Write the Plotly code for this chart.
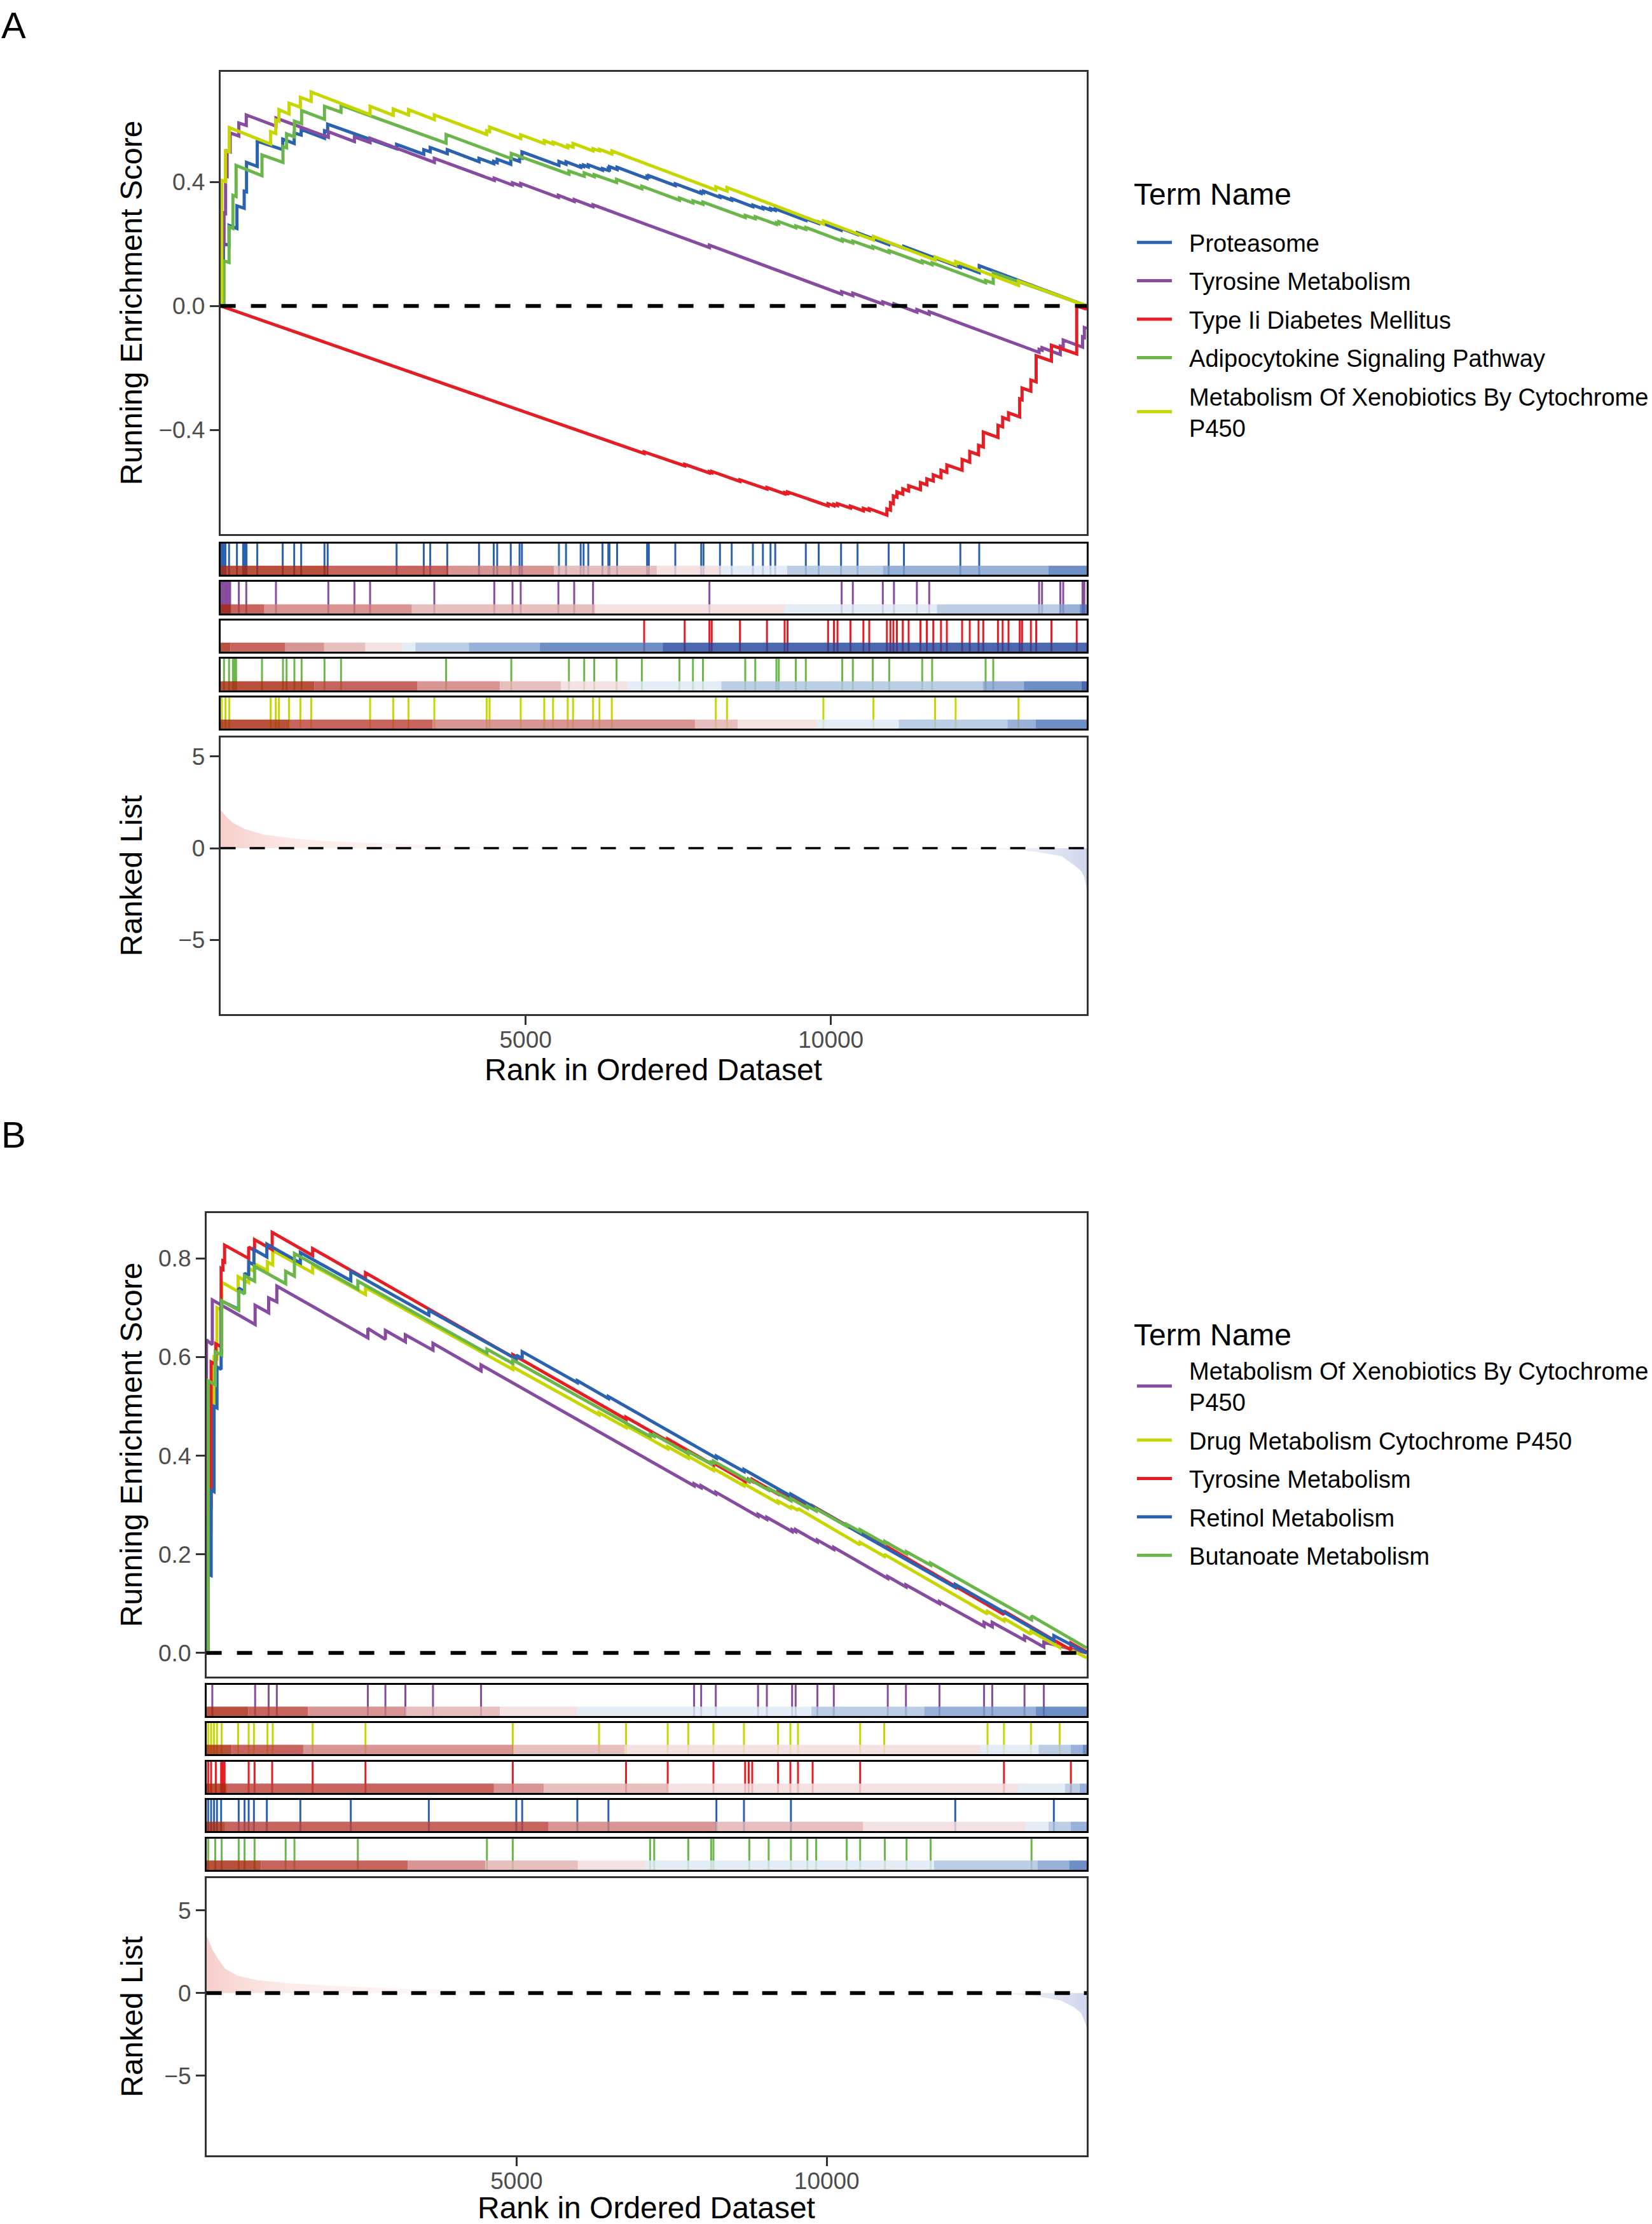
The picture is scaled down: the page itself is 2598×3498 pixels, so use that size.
import textwrap
import plotly.graph_objects as go

W, H = 2598, 3498
N_RANK = 14190
FONT = "Liberation Sans"

# ======================= DATA: panel A =======================
A_TERMS = ["Proteasome", "Tyrosine Metabolism", "Type Ii Diabetes Mellitus",
           "Adipocytokine Signaling Pathway",
           "Metabolism Of Xenobiotics By Cytochrome P450"]

# gene-set hit positions (rug ticks)
A_HITS_PROT = [10, 30, 50, 70, 83, 142, 271, 372, 390, 410, 428, 604, 1021, 1209, 1323, 1705, 1757,
               2886, 3331, 3437, 3716, 4236, 4477, 4534, 4756, 4900, 4939, 5545, 5661, 5901, 5949,
               6026, 6258, 6354, 6373, 6498, 6989, 7018, 7451, 7875, 7913, 8183, 8375, 8722, 8886,
               9011, 9088, 9589, 9800, 10166, 10436, 10946, 11196, 12120, 12429]
A_HITS_TYR = [10, 35, 60, 85, 110, 135, 160, 302, 424, 910, 1768, 2195, 2452, 3504, 4486, 4785,
              4919, 5536, 5795, 6104, 8010, 10176, 10359, 10850, 11033, 11408, 11610, 13410, 13458,
              13757, 13805, 14122, 14151]
A_HITS_T2D = [6941, 7605, 8010, 8048, 8510, 8953, 9242, 9290, 9954, 10050, 10108, 10320, 10532,
              10628, 10917, 10975, 11023, 11081, 11177, 11273, 11466, 11571, 11677, 11803, 11899,
              12149, 12274, 12418, 12496, 12736, 12813, 12909, 13092, 13131, 13275, 13362, 13612, 14026]
A_HITS_ADIPO = [59, 142, 205, 230, 257, 681, 1025, 1084, 1212, 1330, 1705, 1976, 3697, 4765, 5709,
                5959, 6123, 6489, 6903, 7519, 7740, 7904, 8597, 8761, 9107, 9146, 9425, 9589, 10185,
                10359, 10686, 10955, 11495, 11658, 12534, 12659]
A_HITS_XENO = [21, 83, 146, 823, 907, 959, 1125, 1310, 1487, 2452, 2831, 3081, 3504, 4361, 4409,
               4919, 5304, 5449, 5689, 5776, 6104, 6209, 6411, 8115, 8298, 9877, 10696, 11706,
               12043, 13073]

# running enrichment score read at the steps: (rank, score before step, score after step)
A_ES_PROT = [(10, 0.0, 0.10), (50, 0.098, 0.20), (142, 0.196, 0.26), (271, 0.25, 0.323),
             (390, 0.315, 0.37), (428, 0.368, 0.463), (604, 0.45, 0.531), (1021, 0.504, 0.538),
             (1209, 0.524, 0.558), (1323, 0.551, 0.569), (1705, 0.541, 0.565), (1757, 0.562, 0.586),
             (2886, 0.507, 0.521), (3331, 0.489, 0.504), (3437, 0.497, 0.511), (3716, 0.491, 0.504),
             (4236, 0.465, 0.476), (4477, 0.459, 0.466), (4534, 0.462, 0.473), (4756, 0.457, 0.476),
             (4900, 0.466, 0.48), (4939, 0.477, 0.497), (5545, 0.453, 0.466), (5661, 0.457, 0.465),
             (5901, 0.447, 0.452), (5949, 0.449, 0.454), (6026, 0.448, 0.455), (6258, 0.438, 0.443),
             (6354, 0.437, 0.443), (6373, 0.441, 0.449), (6498, 0.44, 0.447), (6989, 0.411, 0.418),
             (7018, 0.416, 0.42), (7451, 0.388, 0.394), (7875, 0.363, 0.368), (7913, 0.365, 0.37),
             (8183, 0.35, 0.355), (8375, 0.341, 0.346), (8722, 0.32, 0.325), (8886, 0.313, 0.318),
             (9011, 0.309, 0.314), (9088, 0.308, 0.313), (9589, 0.276, 0.281), (9800, 0.266, 0.271),
             (10166, 0.244, 0.25), (10436, 0.23, 0.236), (10946, 0.198, 0.204), (11196, 0.186, 0.192),
             (12120, 0.124, 0.13), (12429, 0.107, 0.13)]
A_ES_TYR = [(10, 0.0, 0.12), (35, 0.118, 0.2), (60, 0.198, 0.3), (85, 0.298, 0.42), (110, 0.418, 0.5),
            (160, 0.497, 0.558), (302, 0.548, 0.59), (424, 0.582, 0.616), (910, 0.58, 0.606),
            (1768, 0.544, 0.562), (2195, 0.53, 0.545), (2452, 0.527, 0.541), (3504, 0.463, 0.476),
            (4486, 0.405, 0.412), (4785, 0.39, 0.397), (4919, 0.387, 0.395), (5536, 0.35, 0.357),
            (5795, 0.337, 0.343), (6104, 0.32, 0.326), (8010, 0.188, 0.196), (10176, 0.038, 0.046),
            (10359, 0.033, 0.041), (10850, 0.006, 0.013), (11033, 0.0, 0.007), (11408, -0.02, -0.012),
            (11610, -0.027, -0.019), (13410, -0.15, -0.14), (13458, -0.143, -0.135),
            (13757, -0.157, -0.13), (13805, -0.133, -0.11), (14122, -0.133, -0.10),
            (14151, -0.102, -0.07)]
A_ES_T2D = [(6941, -0.476, -0.471), (7605, -0.516, -0.511), (8010, -0.539, -0.535),
            (8048, -0.538, -0.534), (8510, -0.566, -0.561), (8953, -0.591, -0.586),
            (9242, -0.606, -0.602), (9290, -0.605, -0.6), (9954, -0.645, -0.638),
            (10050, -0.645, -0.64), (10108, -0.644, -0.638), (10320, -0.652, -0.646),
            (10532, -0.661, -0.653), (10628, -0.66, -0.654), (10917, -0.675, -0.655),
            (10975, -0.659, -0.635), (11023, -0.638, -0.613), (11081, -0.617, -0.6),
            (11177, -0.607, -0.59), (11273, -0.597, -0.58), (11466, -0.593, -0.57),
            (11571, -0.577, -0.558), (11677, -0.565, -0.545), (11803, -0.554, -0.53),
            (11899, -0.537, -0.513), (12149, -0.53, -0.495), (12274, -0.504, -0.47),
            (12418, -0.48, -0.45), (12496, -0.455, -0.407), (12736, -0.424, -0.385),
            (12813, -0.39, -0.36), (12909, -0.367, -0.345), (13092, -0.358, -0.30),
            (13131, -0.303, -0.265), (13275, -0.275, -0.239), (13362, -0.245, -0.161),
            (13612, -0.178, -0.127), (14026, -0.155, 0.0)]
A_ES_ADIPO = [(59, 0.0, 0.145), (142, 0.14, 0.255), (205, 0.25, 0.357), (257, 0.353, 0.453),
              (681, 0.42, 0.487), (1025, 0.463, 0.514), (1084, 0.51, 0.555), (1212, 0.545, 0.596),
              (1330, 0.588, 0.63), (1705, 0.602, 0.644), (1976, 0.625, 0.647), (3697, 0.525, 0.553),
              (4765, 0.475, 0.492), (5709, 0.425, 0.435), (5959, 0.418, 0.429), (6123, 0.417, 0.423),
              (6489, 0.398, 0.408), (6903, 0.378, 0.386), (7519, 0.341, 0.348), (7740, 0.332, 0.339),
              (7904, 0.328, 0.335), (8597, 0.285, 0.292), (8761, 0.281, 0.288), (9107, 0.263, 0.268),
              (9146, 0.265, 0.272), (9425, 0.252, 0.258), (9589, 0.247, 0.253), (10185, 0.209, 0.215),
              (10359, 0.203, 0.209), (10686, 0.186, 0.192), (10955, 0.172, 0.178),
              (11495, 0.139, 0.145), (11658, 0.133, 0.139), (12534, 0.075, 0.082),
              (12659, 0.073, 0.107)]
A_ES_XENO = [(21, 0.0, 0.405), (83, 0.401, 0.5), (146, 0.497, 0.575), (823, 0.522, 0.562),
             (907, 0.556, 0.6), (959, 0.596, 0.633), (1125, 0.619, 0.654), (1310, 0.641, 0.673),
             (1487, 0.66, 0.69), (2452, 0.617, 0.644), (2831, 0.615, 0.635), (3081, 0.616, 0.633),
             (3504, 0.601, 0.616), (4361, 0.553, 0.565), (4409, 0.562, 0.577), (4919, 0.54, 0.552),
             (5304, 0.524, 0.533), (5449, 0.522, 0.528), (5689, 0.51, 0.518), (5776, 0.512, 0.524),
             (6104, 0.5, 0.507), (6209, 0.5, 0.505), (6411, 0.49, 0.5), (8115, 0.374, 0.384),
             (8298, 0.37, 0.382), (9877, 0.264, 0.274), (10696, 0.213, 0.224), (11706, 0.148, 0.158),
             (12043, 0.133, 0.143), (13073, 0.066, 0.08)]
A_ES_END = [0.0, -0.073, -0.011, 0.0, 0.0]

# heat strip under each rug: segment edges (rank) and level (0 = most up, 9 = most down)
A_BAND_EDGES = [
    [0, 1763, 3733, 5464, 7148, 8206, 9283, 10851, 13564, N_RANK],
    [0, 167, 720, 3136, 6138, 9245, 11736, 13737, 14074, N_RANK],
    [0, 167, 1063, 1700, 2376, 2980, 3194, 4069, 5233, 7244, N_RANK],
    [0, 1542, 3223, 4579, 5580, 6667, 8206, 12487, 13160, 14103, N_RANK],
    [0, 1125, 3473, 7773, 8475, 9764, 11111, 12891, 13353, N_RANK],
]
A_BAND_LEVELS = [
    [0, 1, 2, 3, 4, 5, 6, 7, 8],
    [0, 1, 2, 3, 4, 5, 6, 7, 8],
    [0, 1, 2, 3, 4, 5, 6, 7, 8, 9],
    [0, 1, 2, 3, 4, 5, 6, 7, 8, 9],
    [0, 1, 2, 3, 4, 5, 6, 7, 8],
]

# ranked list (metric vs rank)
A_RANK_X = [1, 100, 200, 393, 700, 1136, 1600, 2198, 3260, 4322, 5400, 6500, 8000, 9500, 11000,
            12000, 12819, 13350, 13775, 13987, 14100, 14147, 14190]
A_RANK_Y = [2.1, 1.7, 1.4, 1.05, 0.75, 0.56, 0.42, 0.31, 0.19, 0.1, 0.05, 0.02, 0.0, -0.01, -0.03,
            -0.05, -0.07, -0.19, -0.43, -0.93, -1.25, -1.55, -2.2]

# ======================= DATA: panel B =======================
B_TERMS = ["Metabolism Of Xenobiotics By Cytochrome P450", "Drug Metabolism Cytochrome P450",
           "Tyrosine Metabolism", "Retinol Metabolism", "Butanoate Metabolism"]

B_HITS_XENO = [95, 785, 1003, 1135, 2602, 2885, 3207, 3652, 4427, 7861, 7975, 8211, 8892, 9034,
               9441, 9498, 9848, 10113, 10983, 11276, 11816, 12535, 12667, 13187, 13499]
B_HITS_DRUG = [28, 76, 123, 170, 246, 511, 681, 766, 984, 1069, 1712, 2564, 4938, 6329, 6764, 7436,
               7767, 8173, 8665, 9214, 9413, 9536, 10538, 10926, 12591, 12856, 13291, 13754]
B_HITS_TYR = [28, 76, 151, 237, 265, 293, 681, 776, 1060, 1712, 2564, 4938, 6764, 7436, 8173, 8684,
              8741, 8798, 9214, 9413, 9536, 9772, 10538, 12856, 13935]
B_HITS_RET = [28, 76, 123, 170, 237, 520, 615, 681, 766, 974, 1514, 2327, 3585, 4995, 5090, 5979,
              6480, 8221, 8665, 9422, 12071, 13660]
B_HITS_BUT = [28, 142, 246, 520, 615, 776, 1277, 1419, 2441, 4522, 4938, 7152, 7218, 7767, 8136,
              8173, 8751, 9063, 9422, 9687, 9829, 10321, 10538, 10936, 11286, 11674, 13300]

B_ES_XENO = [(1, 0.0, 0.635), (95, 0.625, 0.716), (785, 0.666, 0.705), (1003, 0.69, 0.72),
             (1135, 0.712, 0.744), (2602, 0.639, 0.658), (2885, 0.636, 0.654), (3207, 0.631, 0.645),
             (3652, 0.614, 0.628), (4427, 0.572, 0.584), (7861, 0.339, 0.343), (7975, 0.335, 0.339),
             (8211, 0.322, 0.326), (8892, 0.277, 0.281), (9034, 0.271, 0.275), (9441, 0.246, 0.25),
             (9498, 0.246, 0.25), (9848, 0.225, 0.229), (10113, 0.21, 0.214), (10983, 0.151, 0.155),
             (11276, 0.134, 0.138), (11816, 0.1, 0.104), (12535, 0.054, 0.062),
             (12667, 0.053, 0.062), (13187, 0.026, 0.034), (13499, 0.012, 0.022)]
B_ES_DRUG = [(28, 0.0, 0.25), (76, 0.247, 0.45), (123, 0.447, 0.6), (170, 0.597, 0.7),
             (246, 0.695, 0.752), (511, 0.733, 0.763), (681, 0.751, 0.78), (766, 0.774, 0.79),
             (984, 0.775, 0.793), (1069, 0.787, 0.816), (1712, 0.771, 0.786), (2564, 0.727, 0.741),
             (4938, 0.575, 0.58), (6329, 0.483, 0.487), (6764, 0.457, 0.461), (7436, 0.414, 0.418),
             (7767, 0.395, 0.399), (8173, 0.37, 0.374), (8665, 0.339, 0.343), (9214, 0.304, 0.308),
             (9413, 0.294, 0.298), (9536, 0.289, 0.293), (10538, 0.219, 0.224), (10926, 0.196, 0.2),
             (12591, 0.079, 0.084), (12856, 0.065, 0.07), (13291, 0.038, 0.044),
             (13754, 0.011, 0.018)]
B_ES_TYR = [(28, 0.0, 0.30), (76, 0.297, 0.59), (151, 0.585, 0.627), (237, 0.621, 0.78),
            (265, 0.778, 0.795), (293, 0.793, 0.827), (681, 0.8, 0.823), (776, 0.816, 0.838),
            (1060, 0.818, 0.853), (1712, 0.806, 0.82), (2564, 0.759, 0.771), (4938, 0.6, 0.605),
            (6764, 0.474, 0.478), (7436, 0.43, 0.434), (8173, 0.381, 0.385), (8684, 0.348, 0.352),
            (8741, 0.348, 0.352), (8798, 0.348, 0.352), (9214, 0.322, 0.326), (9413, 0.312, 0.316),
            (9536, 0.307, 0.311), (9772, 0.294, 0.298), (10538, 0.243, 0.247),
            (12856, 0.078, 0.085), (13935, 0.006, 0.02)]
B_ES_RET = [(28, 0.0, 0.16), (76, 0.157, 0.33), (123, 0.327, 0.5), (170, 0.497, 0.58),
            (237, 0.575, 0.714), (520, 0.697, 0.74), (615, 0.733, 0.77), (681, 0.765, 0.793),
            (766, 0.787, 0.818), (974, 0.803, 0.829), (1514, 0.791, 0.812), (2327, 0.755, 0.774),
            (3585, 0.685, 0.695), (4995, 0.596, 0.604), (5090, 0.597, 0.611), (5979, 0.548, 0.552),
            (6480, 0.516, 0.52), (8221, 0.395, 0.399), (8665, 0.368, 0.372), (9422, 0.318, 0.322),
            (12071, 0.133, 0.139), (13660, 0.025, 0.035)]
B_ES_BUT = [(28, 0.0, 0.552), (142, 0.544, 0.611), (246, 0.604, 0.714), (520, 0.695, 0.735),
            (615, 0.728, 0.765), (776, 0.754, 0.784), (1277, 0.749, 0.774), (1419, 0.764, 0.81),
            (2441, 0.738, 0.754), (4522, 0.608, 0.616), (4938, 0.587, 0.594), (7152, 0.439, 0.443),
            (7218, 0.439, 0.443), (7767, 0.404, 0.408), (8136, 0.383, 0.387), (8173, 0.385, 0.389),
            (8751, 0.348, 0.352), (9063, 0.33, 0.334), (9422, 0.309, 0.313), (9687, 0.294, 0.298),
            (9829, 0.288, 0.292), (10321, 0.257, 0.261), (10538, 0.246, 0.25), (10936, 0.222, 0.226),
            (11286, 0.201, 0.205), (11674, 0.178, 0.182), (13300, 0.067, 0.075)]
B_ES_END = [0.0, -0.01, 0.002, 0.0, 0.01]

B_BAND_EDGES = [
    [0, 672, 1637, 3197, 4730, 5969, 9753, 11570, 13367, N_RANK],
    [0, 407, 1561, 4948, 6745, 12468, 13414, 13934, 14123, N_RANK],
    [0, 331, 4635, 5440, 7426, 13083, 13840, 14076, N_RANK],
    [0, 300, 5515, 8211, 10586, 13197, 13575, 13934, N_RANK],
    [0, 880, 3245, 4494, 5988, 7076, 11730, 13395, 13906, N_RANK],
]
B_BAND_LEVELS = [
    [0, 1, 2, 3, 4, 5, 6, 7, 8],
    [0, 1, 2, 3, 4, 5, 6, 7, 8],
    [0, 1, 2, 3, 4, 5, 6, 7],
    [0, 1, 2, 3, 4, 5, 6, 7],
    [0, 1, 2, 3, 4, 5, 6, 7, 8],
]

B_RANK_X = [1, 100, 200, 303, 500, 825, 1347, 2391, 3435, 4479, 6568, 8500, 10500, 12000, 12833,
            13355, 13773, 13982, 14100, 14139, 14190]
B_RANK_Y = [3.5, 2.6, 2.0, 1.47, 1.05, 0.78, 0.58, 0.37, 0.23, 0.14, 0.04, 0.0, -0.02, -0.03,
            -0.04, -0.18, -0.45, -0.86, -1.2, -1.55, -2.1]

X_TICKS = [5000, 10000]
X_TICK_TEXT = ["5000", "10000"]

# ======================= STYLE =======================
A_COLORS = ["#2A62B0", "#874C9F", "#E41E25", "#6BB64A", "#C8D600"]
B_COLORS = ["#874C9F", "#C8D600", "#E41E25", "#2A62B0", "#6BB64A"]
BAND_PALETTE = ["#B9503B", "#C8645E", "#D99494", "#E7BFBF", "#F4E2E2",
                "#E4ECF5", "#BCCEE6", "#98B1D8", "#6E8EC6", "#4A67AF"]
BAND_ALPHA = 0.82
TICK_FONT = dict(family=FONT, size=37, color="#4D4D4D")
TITLE_FONT = dict(family=FONT, size=48, color="black")
LABEL_PAD = "\u2002\u200a"


def band_rgba(level):
    h = BAND_PALETTE[level].lstrip("#")
    eff = [int(h[i:i + 2], 16) for i in (0, 2, 4)]
    src = [max(0, min(255, round((c - (1 - BAND_ALPHA) * 255) / BAND_ALPHA))) for c in eff]
    return "rgba(%d,%d,%d,%.2f)" % (src[0], src[1], src[2], BAND_ALPHA)


def xdom(l, r):
    return [l / W, r / W]


def ydom(t, b):
    return [1 - b / H, 1 - t / H]


def es_path(steps, end):
    xs, ys = [1], [0.0]
    for x, pre, post in steps:
        xs += [x, x]
        ys += [pre, post]
    xs.append(N_RANK)
    ys.append(end)
    return xs, ys


def wrap(name):
    return "<br>".join(LABEL_PAD + line for line in textwrap.wrap(name, 40))


fig = go.Figure()
layout_axes = {}
shapes = []
annotations = []


def axis_names(i):
    return ("x" if i == 1 else "x%d" % i), ("y" if i == 1 else "y%d" % i), \
           ("xaxis" if i == 1 else "xaxis%d" % i), ("yaxis" if i == 1 else "yaxis%d" % i)


def build_panel(base, xl, xr, main_box, rug_boxes, rank_box, main_range, main_ticks,
                rank_range, terms, colors, es_list, es_end, hits_list, band_edges, band_levels,
                rank_x, rank_y, legend_name, rank_dash_w, band_h):
    # ---- main running-ES panel ----
    xa, ya, xk, yk = axis_names(base)
    for term, col, steps, end in zip(terms, colors, es_list, es_end):
        xs, ys = es_path(steps, end)
        fig.add_trace(go.Scatter(x=xs, y=ys, mode="lines", name=wrap(term),
                                 line=dict(color=col, width=5), xaxis=xa, yaxis=ya,
                                 legend=legend_name, legendgroup=legend_name + term,
                                 hoverinfo="skip"))
    layout_axes[xk] = dict(domain=xdom(xl, xr), range=[0, N_RANK], anchor=ya, showticklabels=False,
                           ticks="", showgrid=False, zeroline=False, showline=True, mirror=True,
                           linecolor="#333333", linewidth=2.5)
    layout_axes[yk] = dict(domain=ydom(*main_box), range=main_range, anchor=xa, tickvals=main_ticks,
                           tickformat=".1f", ticks="outside", ticklen=14, tickwidth=3,
                           tickcolor="#333333", tickfont=TICK_FONT, showgrid=False, zeroline=False,
                           showline=True, mirror=True, linecolor="#333333", linewidth=2.5)
    shapes.append(dict(type="line", xref=xa + " domain", yref=ya, x0=0, x1=1, y0=0, y1=0,
                       line=dict(color="black", width=6, dash="24px,24px"), layer="above"))
    annotations.append(dict(text="Running Enrichment Score", textangle=-90, xref="paper",
                            yref="paper", x=207 / W, y=1 - (main_box[0] + main_box[1]) / 2 / H,
                            xanchor="center", yanchor="middle", showarrow=False, font=TITLE_FONT))
    # ---- rug rows ----
    for k, (box, col, hits, edges, levels) in enumerate(zip(rug_boxes, colors, hits_list,
                                                           band_edges, band_levels)):
        xa, ya, xk, yk = axis_names(base + 1 + k)
        lx, ly = [], []
        for h in hits:
            lx += [h, h, None]
            ly += [0, 1, None]
        fig.add_trace(go.Scatter(x=lx, y=ly, mode="lines", line=dict(color=col, width=3),
                                 xaxis=xa, yaxis=ya, showlegend=False, hoverinfo="skip"))
        for i, lv in enumerate(levels):
            x0, x1 = edges[i], edges[i + 1]
            fig.add_trace(go.Scatter(x=[x0, x1, x1, x0, x0], y=[0, 0, band_h, band_h, 0],
                                     mode="lines", fill="toself", fillcolor=band_rgba(lv),
                                     line=dict(width=0), xaxis=xa, yaxis=ya, showlegend=False,
                                     hoverinfo="skip"))
        layout_axes[xk] = dict(domain=xdom(xl, xr), range=[0, N_RANK], anchor=ya,
                               showticklabels=False, ticks="", showgrid=False, zeroline=False,
                               showline=True, mirror=True, linecolor="black", linewidth=3)
        layout_axes[yk] = dict(domain=ydom(*box), range=[0, 1], anchor=xa, showticklabels=False,
                               ticks="", showgrid=False, zeroline=False, showline=True,
                               mirror=True, linecolor="black", linewidth=3)
    # ---- ranked list ----
    xa, ya, xk, yk = axis_names(base + 6)
    px_ = [x for x, y in zip(rank_x, rank_y) if y >= 0]
    py_ = [y for y in rank_y if y >= 0]
    nx_ = [x for x, y in zip(rank_x, rank_y) if y <= 0]
    ny_ = [y for y in rank_y if y <= 0]
    fig.add_trace(go.Scatter(x=px_, y=py_, mode="lines", fill="tozeroy", line=dict(width=0),
                             fillgradient=dict(type="horizontal", start=0, stop=7000,
                                               colorscale=[[0, "rgba(238,158,148,0.5)"],
                                                           [0.2, "rgba(244,200,194,0.35)"],
                                                           [1, "rgba(252,240,238,0.1)"]]),
                             xaxis=xa, yaxis=ya, showlegend=False, hoverinfo="skip"))
    fig.add_trace(go.Scatter(x=nx_, y=ny_, mode="lines", fill="tozeroy", line=dict(width=0),
                             fillgradient=dict(type="horizontal", start=9000, stop=N_RANK,
                                               colorscale=[[0, "rgba(240,242,250,0.1)"],
                                                           [0.75, "rgba(214,220,238,0.35)"],
                                                           [1, "rgba(170,182,222,0.55)"]]),
                             xaxis=xa, yaxis=ya, showlegend=False, hoverinfo="skip"))
    layout_axes[xk] = dict(domain=xdom(xl, xr), range=[0, N_RANK], anchor=ya,
                           tickvals=X_TICKS, ticktext=X_TICK_TEXT, ticks="outside", ticklen=14,
                           tickwidth=3, ticklabelstandoff=-8,
                           tickcolor="#333333", tickfont=TICK_FONT, showgrid=False,
                           zeroline=False, showline=True, mirror=True, linecolor="#333333",
                           linewidth=2.5)
    layout_axes[yk] = dict(domain=ydom(*rank_box), range=rank_range, anchor=xa,
                           tickvals=[-5, 0, 5], ticks="outside", ticklen=14, tickwidth=3,
                           tickcolor="#333333", tickfont=TICK_FONT, showgrid=False,
                           zeroline=False, showline=True, mirror=True, linecolor="#333333",
                           linewidth=2.5)
    shapes.append(dict(type="line", xref=xa + " domain", yref=ya, x0=0, x1=1, y0=0, y1=0,
                       line=dict(color="black", width=rank_dash_w, dash="24px,22px"),
                       layer="above"))
    annotations.append(dict(text="Ranked List", textangle=-90, xref="paper", yref="paper",
                            x=207 / W, y=1 - (rank_box[0] + rank_box[1]) / 2 / H,
                            xanchor="center", yanchor="middle", showarrow=False, font=TITLE_FONT))


build_panel(1, 347, 1711, (113, 840),
            [(855, 904), (915, 965), (976, 1025), (1036, 1086), (1097, 1146)], (1160, 1595),
            [-0.736, 0.755], [-0.4, 0.0, 0.4], [-9.04, 6.03],
            A_TERMS, A_COLORS, [A_ES_PROT, A_ES_TYR, A_ES_T2D, A_ES_ADIPO, A_ES_XENO], A_ES_END,
            [A_HITS_PROT, A_HITS_TYR, A_HITS_T2D, A_HITS_ADIPO, A_HITS_XENO],
            A_BAND_EDGES, A_BAND_LEVELS, A_RANK_X, A_RANK_Y, "legend", 3.5, 0.29)
build_panel(8, 325, 1711, (1908, 2637),
            [(2650, 2699), (2710, 2759), (2771, 2820), (2831, 2880), (2892, 2941)], (2954, 3390),
            [-0.048, 0.892], [0.0, 0.2, 0.4, 0.6, 0.8], [-9.82, 6.95],
            B_TERMS, B_COLORS, [B_ES_XENO, B_ES_DRUG, B_ES_TYR, B_ES_RET, B_ES_BUT], B_ES_END,
            [B_HITS_XENO, B_HITS_DRUG, B_HITS_TYR, B_HITS_RET, B_HITS_BUT],
            B_BAND_EDGES, B_BAND_LEVELS, B_RANK_X, B_RANK_Y, "legend2", 6, 0.30)

# x-axis titles, legend titles and panel letters
annotations.append(dict(text="Rank in Ordered Dataset", xref="paper", yref="paper",
                        x=(347 + 1711) / 2 / W, y=1 - 1682 / H, xanchor="center", yanchor="middle",
                        showarrow=False, font=TITLE_FONT))
annotations.append(dict(text="Rank in Ordered Dataset", xref="paper", yref="paper",
                        x=(325 + 1711) / 2 / W, y=1 - 3472 / H, xanchor="center", yanchor="middle",
                        showarrow=False, font=TITLE_FONT))
for ty in (305, 2099):
    annotations.append(dict(text="Term Name", xref="paper", yref="paper", x=1783 / W,
                            y=1 - ty / H, xanchor="left", yanchor="middle", showarrow=False,
                            font=TITLE_FONT))
annotations.append(dict(text="A", xref="paper", yref="paper", x=22 / W, y=1 - 40 / H,
                        xanchor="center", yanchor="middle", showarrow=False,
                        font=dict(family=FONT, size=58, color="black")))
annotations.append(dict(text="B", xref="paper", yref="paper", x=22 / W, y=1 - 1785 / H,
                        xanchor="center", yanchor="middle", showarrow=False,
                        font=dict(family=FONT, size=58, color="black")))

legend_common = dict(xanchor="left", yanchor="top", bgcolor="rgba(0,0,0,0)", borderwidth=0,
                     font=dict(family=FONT, size=38, color="black"), itemwidth=55,
                     tracegroupgap=8, valign="middle")
fig.update_layout(
    width=W, height=H, margin=dict(l=0, r=0, t=0, b=0),
    paper_bgcolor="white", plot_bgcolor="white",
    showlegend=True,
    legend=dict(x=1785 / W, y=1 - 350 / H, **legend_common),
    legend2=dict(x=1785 / W, y=1 - 2124 / H, **legend_common),
    shapes=shapes, annotations=annotations,
    font=dict(family=FONT),
    **layout_axes,
)

fig.write_html("out.html", config={"displayModeBar": False},
               post_script="document.body.style.margin='0px';document.body.style.padding='0px';")
